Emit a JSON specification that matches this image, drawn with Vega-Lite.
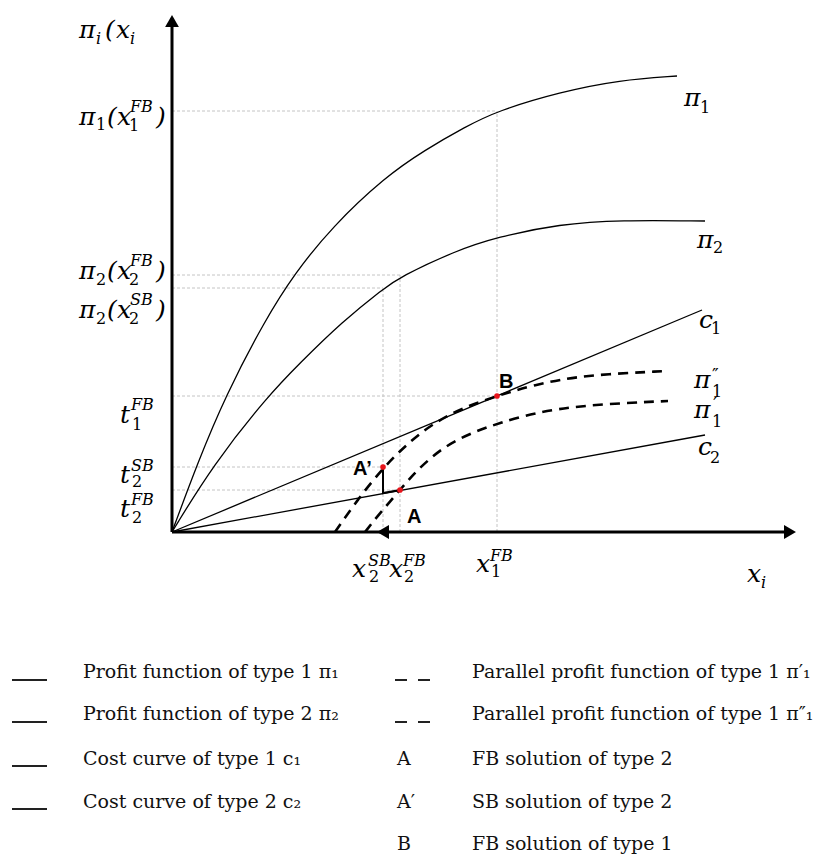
{
  "$schema": "https://vega.github.io/schema/vega-lite/v6.json",
  "width": 833,
  "height": 855,
  "autosize": {"type": "fit", "contains": "padding"},
  "padding": 0,
  "background": "white",
  "view": {"stroke": null},
  "datasets": {
    "solid": [
      {"curve": "pi1", "X": 0, "Y": 0}, {"curve": "pi1", "X": 26, "Y": 70}, {"curve": "pi1", "X": 53, "Y": 135}, {"curve": "pi1", "X": 93, "Y": 212}, {"curve": "pi1", "X": 123, "Y": 259}, {"curve": "pi1", "X": 160, "Y": 305}, {"curve": "pi1", "X": 213, "Y": 355}, {"curve": "pi1", "X": 253, "Y": 382}, {"curve": "pi1", "X": 293, "Y": 405}, {"curve": "pi1", "X": 325, "Y": 421}, {"curve": "pi1", "X": 388, "Y": 440}, {"curve": "pi1", "X": 448, "Y": 452}, {"curve": "pi1", "X": 505, "Y": 456},
      {"curve": "pi2", "X": 0, "Y": 0}, {"curve": "pi2", "X": 41, "Y": 67}, {"curve": "pi2", "X": 95, "Y": 135}, {"curve": "pi2", "X": 128, "Y": 169}, {"curve": "pi2", "X": 170, "Y": 210}, {"curve": "pi2", "X": 211, "Y": 243}, {"curve": "pi2", "X": 228, "Y": 255}, {"curve": "pi2", "X": 283, "Y": 281}, {"curve": "pi2", "X": 325, "Y": 295}, {"curve": "pi2", "X": 388, "Y": 308}, {"curve": "pi2", "X": 448, "Y": 312}, {"curve": "pi2", "X": 533, "Y": 311},
      {"curve": "c1", "X": 0, "Y": 0}, {"curve": "c1", "X": 530, "Y": 222},
      {"curve": "c2", "X": 0, "Y": 0}, {"curve": "c2", "X": 533, "Y": 97}
    ],
    "dashed": [
      {"curve": "pi1pp", "X": 163, "Y": 0}, {"curve": "pi1pp", "X": 186, "Y": 33}, {"curve": "pi1pp", "X": 211, "Y": 64}, {"curve": "pi1pp", "X": 235, "Y": 88}, {"curve": "pi1pp", "X": 260, "Y": 108}, {"curve": "pi1pp", "X": 290, "Y": 124}, {"curve": "pi1pp", "X": 325, "Y": 136}, {"curve": "pi1pp", "X": 361, "Y": 147}, {"curve": "pi1pp", "X": 411, "Y": 157}, {"curve": "pi1pp", "X": 496, "Y": 161},
      {"curve": "pi1p", "X": 193, "Y": 0}, {"curve": "pi1p", "X": 208, "Y": 19}, {"curve": "pi1p", "X": 228, "Y": 42}, {"curve": "pi1p", "X": 245, "Y": 62}, {"curve": "pi1p", "X": 271, "Y": 85}, {"curve": "pi1p", "X": 301, "Y": 100}, {"curve": "pi1p", "X": 328, "Y": 109}, {"curve": "pi1p", "X": 361, "Y": 119}, {"curve": "pi1p", "X": 411, "Y": 127}, {"curve": "pi1p", "X": 496, "Y": 131}
    ],
    "guides": [
      {"X": 0, "Y": 421, "X2": 325, "Y2": 421},
      {"X": 0, "Y": 257, "X2": 228, "Y2": 257},
      {"X": 0, "Y": 244, "X2": 211, "Y2": 244},
      {"X": 0, "Y": 136, "X2": 325, "Y2": 136},
      {"X": 0, "Y": 65, "X2": 211, "Y2": 65},
      {"X": 0, "Y": 42, "X2": 228, "Y2": 42},
      {"X": 325, "Y": 0, "X2": 325, "Y2": 421},
      {"X": 228, "Y": 0, "X2": 228, "Y2": 257},
      {"X": 211, "Y": 0, "X2": 211, "Y2": 244}
    ],
    "axes": [
      {"X": 0, "Y": 0, "X2": 0, "Y2": 506},
      {"X": 0, "Y": 0, "X2": 612, "Y2": 0}
    ],
    "heads": [
      {"dir": "up", "X": 0, "Y": 511},
      {"dir": "right", "X": 618, "Y": 0},
      {"dir": "left", "X": 211, "Y": 0}
    ],
    "bracket": [
      {"seq": 1, "X": 211, "Y": 63}, {"seq": 2, "X": 211, "Y": 39}, {"seq": 3, "X": 228, "Y": 42}
    ],
    "solutions": [
      {"point": "A", "X": 228, "Y": 42}, {"point": "A′", "X": 211, "Y": 65}, {"point": "B", "X": 325, "Y": 136}
    ],
    "mathMain": [
      {"t": "π", "X": -93, "Y": 494}, {"t": "(", "X": -67, "Y": 494}, {"t": "x", "X": -56, "Y": 494},
      {"t": "π", "X": -93, "Y": 407}, {"t": "(", "X": -65, "Y": 407}, {"t": "x", "X": -55, "Y": 407}, {"t": ")", "X": -16, "Y": 407},
      {"t": "π", "X": -93, "Y": 253}, {"t": "(", "X": -65, "Y": 253}, {"t": "x", "X": -55, "Y": 253}, {"t": ")", "X": -16, "Y": 253},
      {"t": "π", "X": -93, "Y": 214}, {"t": "(", "X": -65, "Y": 214}, {"t": "x", "X": -55, "Y": 214}, {"t": ")", "X": -16, "Y": 214},
      {"t": "t", "X": -52, "Y": 109}, {"t": "t", "X": -52, "Y": 49}, {"t": "t", "X": -52, "Y": 15},
      {"t": "x", "X": 180, "Y": -45}, {"t": "x", "X": 217, "Y": -45}, {"t": "x", "X": 304, "Y": -40}, {"t": "x", "X": 575, "Y": -50},
      {"t": "π", "X": 512, "Y": 426}, {"t": "π", "X": 525, "Y": 284}, {"t": "c", "X": 527, "Y": 204},
      {"t": "π", "X": 522, "Y": 144}, {"t": "π", "X": 522, "Y": 114}, {"t": "c", "X": 526, "Y": 77}
    ],
    "mathSmallItalic": [
      {"t": "i", "X": -76, "Y": 488}, {"t": "i", "X": -42, "Y": 488},
      {"t": "FB", "X": -42, "Y": 420}, {"t": "FB", "X": -42, "Y": 266}, {"t": "SB", "X": -42, "Y": 227},
      {"t": "FB", "X": -41, "Y": 122}, {"t": "SB", "X": -41, "Y": 61}, {"t": "FB", "X": -41, "Y": 27},
      {"t": "SB", "X": 196, "Y": -34}, {"t": "FB", "X": 231, "Y": -34}, {"t": "FB", "X": 318, "Y": -29},
      {"t": "i", "X": 589, "Y": -56}
    ],
    "primes": [
      {"t": "″", "X": 540, "Y": 151}, {"t": "′", "X": 541, "Y": 122}
    ],
    "mathSmallDigit": [
      {"t": "1", "X": -76, "Y": 402}, {"t": "1", "X": -43, "Y": 401},
      {"t": "2", "X": -76, "Y": 247}, {"t": "2", "X": -43, "Y": 247},
      {"t": "2", "X": -76, "Y": 208}, {"t": "2", "X": -43, "Y": 208},
      {"t": "1", "X": -40, "Y": 102}, {"t": "2", "X": -40, "Y": 45}, {"t": "2", "X": -40, "Y": 9},
      {"t": "2", "X": 197, "Y": -50}, {"t": "2", "X": 232, "Y": -50}, {"t": "1", "X": 319, "Y": -45},
      {"t": "1", "X": 528, "Y": 419}, {"t": "2", "X": 541, "Y": 279}, {"t": "1", "X": 539, "Y": 198},
      {"t": "1", "X": 540, "Y": 135}, {"t": "1", "X": 540, "Y": 105}, {"t": "2", "X": 538, "Y": 69}
    ],
    "pointLabels": [
      {"t": "B", "X": 327, "Y": 144}, {"t": "A’", "X": 181, "Y": 57}, {"t": "A", "X": 235, "Y": 9}
    ],
    "legendSolid": [
      {"X": -160, "X2": -125, "Y": -148}, {"X": -160, "X2": -125, "Y": -190},
      {"X": -160, "X2": -125, "Y": -234}, {"X": -160, "X2": -125, "Y": -277}
    ],
    "legendDashed": [
      {"X": 223, "X2": 259, "Y": -148}, {"X": 223, "X2": 259, "Y": -190}
    ],
    "legendText": [
      {"t": "Profit function of type 1 π₁", "X": -89, "Y": -146},
      {"t": "Profit function of type 2 π₂", "X": -89, "Y": -188},
      {"t": "Cost curve of type 1 c₁", "X": -89, "Y": -233},
      {"t": "Cost curve of type 2 c₂", "X": -89, "Y": -276},
      {"t": "A", "X": 225, "Y": -233},
      {"t": "A′", "X": 225, "Y": -276},
      {"t": "B", "X": 225, "Y": -318},
      {"t": "Parallel profit function of type 1 π′₁", "X": 300, "Y": -146},
      {"t": "Parallel profit function of type 1 π″₁", "X": 300, "Y": -188},
      {"t": "FB solution of type 2", "X": 300, "Y": -233},
      {"t": "SB solution of type 2", "X": 300, "Y": -276},
      {"t": "FB solution of type 1", "X": 300, "Y": -318}
    ]
  },
  "encoding": {
    "x": {"field": "X", "type": "quantitative", "scale": {"domain": [-172, 661], "nice": false, "zero": false}, "axis": null},
    "y": {"field": "Y", "type": "quantitative", "scale": {"domain": [-323, 532], "nice": false, "zero": false}, "axis": null}
  },
  "layer": [
    {
      "data": {"name": "guides"},
      "mark": {"type": "rule", "color": "#c4c4c4", "strokeWidth": 1, "strokeDash": [3, 2]},
      "encoding": {"x2": {"field": "X2"}, "y2": {"field": "Y2"}}
    },
    {
      "data": {"name": "solid"},
      "mark": {"type": "line", "color": "black", "strokeWidth": 1.3, "interpolate": "basis"},
      "encoding": {"detail": {"field": "curve", "type": "nominal"}}
    },
    {
      "data": {"name": "dashed"},
      "mark": {"type": "line", "color": "black", "strokeWidth": 2.6, "strokeDash": [10, 7], "interpolate": "basis"},
      "encoding": {"detail": {"field": "curve", "type": "nominal"}}
    },
    {
      "data": {"name": "axes"},
      "mark": {"type": "rule", "color": "black", "strokeWidth": 3},
      "encoding": {"x2": {"field": "X2"}, "y2": {"field": "Y2"}}
    },
    {
      "data": {"name": "heads"},
      "mark": {"type": "point", "filled": true, "color": "black", "opacity": 1, "size": 190},
      "encoding": {
        "shape": {"field": "dir", "type": "nominal", "scale": {"domain": ["up", "right", "left"], "range": ["triangle-up", "triangle-right", "triangle-left"]}, "legend": null}
      }
    },
    {
      "data": {"name": "bracket"},
      "mark": {"type": "line", "color": "black", "strokeWidth": 2},
      "encoding": {"order": {"field": "seq", "type": "quantitative"}}
    },
    {
      "data": {"name": "solutions"},
      "mark": {"type": "point", "filled": true, "color": "#e8141b", "opacity": 1, "size": 32}
    },
    {
      "data": {"name": "mathMain"},
      "mark": {"type": "text", "align": "left", "baseline": "alphabetic", "font": "DejaVu Serif", "fontStyle": "italic", "fontSize": 25, "color": "black"},
      "encoding": {"text": {"field": "t", "type": "nominal"}}
    },
    {
      "data": {"name": "mathSmallItalic"},
      "mark": {"type": "text", "align": "left", "baseline": "alphabetic", "font": "DejaVu Serif", "fontStyle": "italic", "fontSize": 16, "color": "black"},
      "encoding": {"text": {"field": "t", "type": "nominal"}}
    },
    {
      "data": {"name": "primes"},
      "mark": {"type": "text", "align": "left", "baseline": "alphabetic", "font": "DejaVu Sans", "fontSize": 18, "color": "black"},
      "encoding": {"text": {"field": "t", "type": "nominal"}}
    },
    {
      "data": {"name": "mathSmallDigit"},
      "mark": {"type": "text", "align": "left", "baseline": "alphabetic", "font": "DejaVu Serif", "fontSize": 16, "color": "black"},
      "encoding": {"text": {"field": "t", "type": "nominal"}}
    },
    {
      "data": {"name": "pointLabels"},
      "mark": {"type": "text", "align": "left", "baseline": "alphabetic", "font": "Liberation Sans", "fontWeight": "bold", "fontSize": 20, "color": "black"},
      "encoding": {"text": {"field": "t", "type": "nominal"}}
    },
    {
      "data": {"name": "legendSolid"},
      "mark": {"type": "rule", "color": "#222222", "strokeWidth": 2},
      "encoding": {"x2": {"field": "X2"}}
    },
    {
      "data": {"name": "legendDashed"},
      "mark": {"type": "rule", "color": "#222222", "strokeWidth": 2, "strokeDash": [12, 11]},
      "encoding": {"x2": {"field": "X2"}}
    },
    {
      "data": {"name": "legendText"},
      "mark": {"type": "text", "align": "left", "baseline": "alphabetic", "font": "DejaVu Serif", "fontSize": 19, "color": "#111111"},
      "encoding": {"text": {"field": "t", "type": "nominal"}}
    }
  ]
}
